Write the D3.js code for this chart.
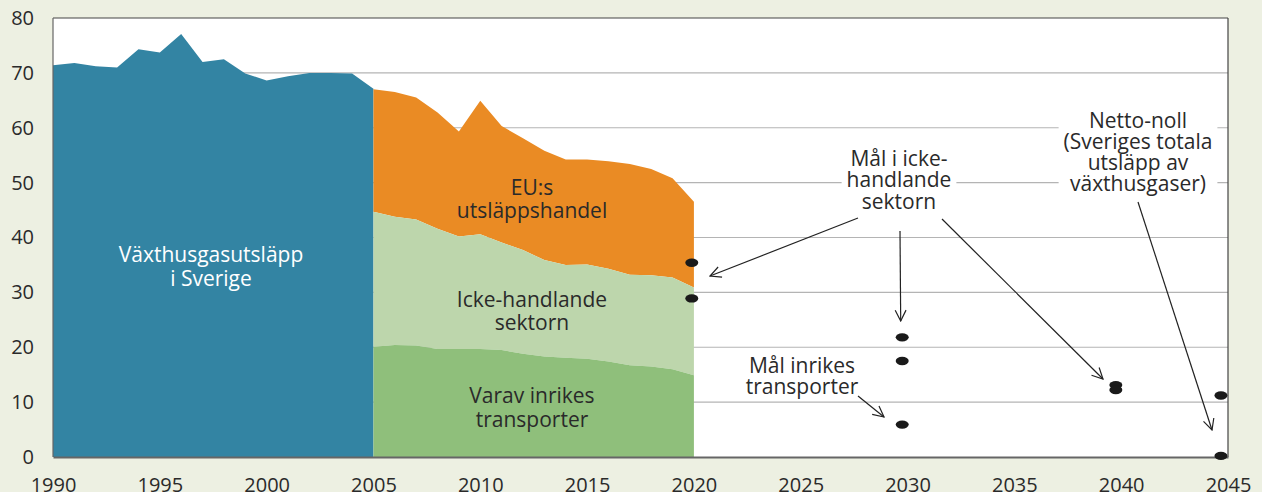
<!DOCTYPE html>
<html>
<head>
<meta charset="utf-8">
<script src="https://cdn.jsdelivr.net/npm/d3@7"></script>
<style>
  html, body { margin: 0; padding: 0; background: #edf0e2; }
  svg { display: block; }
  text { font-family: "Open Sans", "Noto Sans", sans-serif; }
</style>
</head>
<body>
<svg id="chart" width="1262" height="492"></svg>
<script>
// ---- Data (Mt CO2-ekv) ----
const totalYears = [1990,1991,1992,1993,1994,1995,1996,1997,1998,1999,2000,2001,2002,2003,2004,2005];
const totalValues = [71.4,71.8,71.2,71.0,74.3,73.7,77.1,72.0,72.5,69.9,68.6,69.4,70.0,70.0,69.9,67.1];

const sectorYears = [2005,2006,2007,2008,2009,2010,2011,2012,2013,2014,2015,2016,2017,2018,2019,2020];
const euEtsTop    = [67.0,66.5,65.5,62.8,59.3,64.9,60.3,58.1,55.8,54.2,54.2,53.9,53.4,52.5,50.8,46.5];
const nonTrading  = [44.7,43.8,43.3,41.6,40.2,40.6,39.1,37.7,35.9,35.0,35.1,34.3,33.2,33.1,32.7,30.9];
const transport   = [20.1,20.4,20.3,19.7,19.7,19.7,19.5,18.8,18.3,18.1,17.9,17.4,16.7,16.5,16.0,14.9];

const targetYears  = [2019.9,2019.9,2029.75,2029.75,2029.75,2039.75,2039.75,2044.67,2044.67];
const targetValues = [35.4,28.9,21.8,17.5,5.9,13.1,12.2,11.2,0.2];

const yTicks = [0,10,20,30,40,50,60,70,80];
const xTicks = [1990,1995,2000,2005,2010,2015,2020,2025,2030,2035,2040,2045];

// ---- Layout ----
const svg = d3.select("#chart");
const L = 53, R = 1228, T = 18, B = 457;
const x = d3.scaleLinear().domain([1990, 2045]).range([L, R]);
const y = d3.scaleLinear().domain([0, 80]).range([B, T]);
const FS = 21;

svg.append("rect").attr("x", L).attr("y", T).attr("width", R - L).attr("height", B - T).attr("fill", "#fff");

// gridlines
svg.append("g").selectAll("line").data(yTicks.filter(v => v > 0 && v < 80)).join("line")
  .attr("x1", L).attr("x2", R).attr("y1", d => y(d)).attr("y2", d => y(d))
  .attr("stroke", "#b4b4b4").attr("stroke-width", 1.2);

// areas
const totalData = totalYears.map((yr, i) => ({yr, v: totalValues[i]}));
const secData = sectorYears.map((yr, i) => ({yr, top: euEtsTop[i], mid: nonTrading[i], low: transport[i]}));

svg.append("path").datum(totalData)
  .attr("d", d3.area().x(d => x(d.yr)).y0(y(0)).y1(d => y(d.v)))
  .attr("fill", "#3384a3");
svg.append("path").datum(secData)
  .attr("d", d3.area().x(d => x(d.yr)).y0(d => y(d.mid)).y1(d => y(d.top)))
  .attr("fill", "#ea8b24");
svg.append("path").datum(secData)
  .attr("d", d3.area().x(d => x(d.yr)).y0(d => y(d.low)).y1(d => y(d.mid)))
  .attr("fill", "#bdd6ac");
svg.append("path").datum(secData)
  .attr("d", d3.area().x(d => x(d.yr)).y0(y(0)).y1(d => y(d.low)))
  .attr("fill", "#8fbf7b");

// border
svg.append("line").attr("x1", L).attr("x2", R).attr("y1", T).attr("y2", T).attr("stroke", "#444").attr("stroke-width", 1);
svg.append("line").attr("x1", L).attr("x2", L).attr("y1", T).attr("y2", B).attr("stroke", "#666").attr("stroke-width", 1.2);
svg.append("line").attr("x1", R).attr("x2", R).attr("y1", T).attr("y2", B).attr("stroke", "#444").attr("stroke-width", 1.2);

// axes
const yAxis = svg.append("g").attr("transform", `translate(${L},0)`)
  .call(d3.axisLeft(y).tickValues(yTicks).tickSize(0).tickPadding(19).tickFormat(d3.format("d")));
yAxis.select(".domain").remove();
const xAxis = svg.append("g").attr("transform", `translate(0,${B})`)
  .call(d3.axisBottom(x).tickValues(xTicks).tickSize(0).tickPadding(21).tickFormat(d3.format("d")));
xAxis.select(".domain").attr("stroke", "#666").attr("stroke-width", 2.2);
svg.selectAll(".tick text").attr("font-size", 20).attr("fill", "#2a2a2a").attr("font-family", "Lato, 'Noto Sans', sans-serif");

// text helpers: one <text> per label, lines as <tspan>
function multiText(g, lines, cx, cy0, lh, color) {
  const t = g.append("text").attr("x", cx).attr("y", cy0 + 7.5)
    .attr("text-anchor", "middle").attr("font-size", FS).attr("fill", color || "#2a2a2a");
  lines.forEach((s, i) => {
    t.append("tspan").attr("x", cx).attr("dy", i === 0 ? 0 : lh).text(s);
  });
  return t;
}
function boxed(lines, cx, cy0, lh) {
  const g = svg.append("g");
  const bg = g.append("rect").attr("fill", "#fff");
  const t = multiText(g, lines, cx, cy0, lh);
  const bb = t.node().getBBox();
  bg.attr("x", bb.x - 5).attr("y", bb.y + 2).attr("width", bb.width + 10).attr("height", bb.height - 4);
}

// area labels
multiText(svg, ["Växthusgasutsläpp", "i Sverige"], 211, 254, 24, "#ffffff");
multiText(svg, ["EU:s", "utsläppshandel"], 532, 187, 23.5);
multiText(svg, ["Icke-handlande", "sektorn"], 532, 299, 23);
multiText(svg, ["Varav inrikes", "transporter"], 532, 395, 24);

// annotations
boxed(["Mål i icke-", "handlande", "sektorn"], 899, 158, 21.8);
boxed(["Netto-noll", "(Sveriges totala", "utsläpp av", "växthusgaser)"], 1138, 120, 21.1);
multiText(svg, ["Mål inrikes", "transporter"], 802, 365, 21.5);

// arrows
const defs = svg.append("defs");
defs.append("marker").attr("id", "ah").attr("viewBox", "0 0 12 12")
  .attr("refX", 11).attr("refY", 6).attr("markerWidth", 13).attr("markerHeight", 13)
  .attr("markerUnits", "userSpaceOnUse").attr("orient", "auto")
  .append("path").attr("d", "M1,1 L11,6 L1,11").attr("fill", "none").attr("stroke", "#222").attr("stroke-width", 1.1);

const arrows = [
  [858, 218, 710, 276],
  [900, 231, 900.7, 321],
  [942, 219, 1103, 379],
  [858, 396, 884, 417],
  [1138, 202, 1212, 430]
];
svg.append("g").selectAll("line").data(arrows).join("line")
  .attr("x1", d => d[0]).attr("y1", d => d[1]).attr("x2", d => d[2]).attr("y2", d => d[3])
  .attr("stroke", "#222").attr("stroke-width", 1.2).attr("marker-end", "url(#ah)");

// target dots
svg.append("g").selectAll("ellipse").data(targetYears.map((yr, i) => ({yr, v: targetValues[i]}))).join("ellipse")
  .attr("cx", d => x(d.yr)).attr("cy", d => y(d.v)).attr("rx", 6.5).attr("ry", 4.2).attr("fill", "#1a1a1a");
</script>
</body>
</html>
